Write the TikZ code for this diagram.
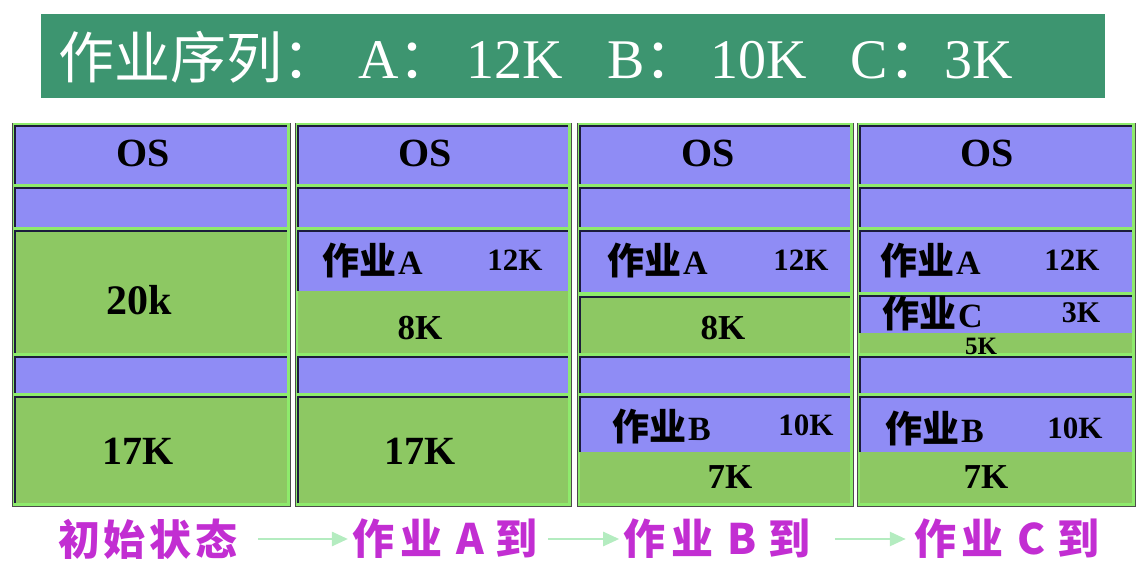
\documentclass[tikz,border=0pt]{standalone}
\usepackage{fontspec}
\setmainfont{Liberation Serif}
\newfontfamily\cjk{Noto Sans CJK SC}
\usetikzlibrary{arrows.meta}
\definecolor{titlegreen}{HTML}{3D9570}
\definecolor{cpurple}{HTML}{8F8CF5}
\definecolor{cgreen}{HTML}{8DC863}
\definecolor{fgreen}{HTML}{8EEB6C}
\definecolor{cdark}{HTML}{1C1C3C}
\definecolor{cmag}{HTML}{C22ED2}
\definecolor{agreen}{HTML}{B4ECC0}
\newcommand\mcell[5]{%
  \fill[#5] (#1,#2) rectangle (#3,#4);
  \draw[cdark,line width=1.6pt] (#1,#4) -- (#1,#2) -- (#3,#2);}
\newcommand\mcol[2]{%
  \fill[fgreen] (#1,123) rectangle (#2,506);
  \draw[black!70,line width=1pt] (#1,123) -- (#1,506) -- (#2,506) -- (#2,123);}
\newcommand\jobtxt[1]{{\cjk\bfseries\fontsize{37}{37}\selectfont 作业}\hspace{2pt}{\bfseries\fontsize{34}{34}\selectfont #1}}
\tikzset{
  lat/.style={inner sep=0pt, font=\bfseries\fontsize{#1}{#1}\selectfont},
  jobl/.style={inner sep=0pt, anchor=west},
  lab/.style={inner sep=0pt, text=cmag, font=\cjk\bfseries\fontsize{42}{42}\selectfont},
  arr/.style={draw=agreen, line width=2.6pt, -{Triangle[length=16pt,width=14pt]}},
}
\begin{document}
\begin{tikzpicture}[x=1pt,y=-1pt]
\useasboundingbox (0,0) rectangle (1146,564);
% title
\fill[titlegreen] (41,14) rectangle (1105,98);
\node[anchor=west, text=white, inner sep=0pt, font=\fontsize{56}{56}\selectfont] (title) at (58,57)
 {{\cjk 作业序列：}\hspace{20pt}A{\cjk ：}\hspace{12pt}12K\hspace{44pt}B{\cjk ：}\hspace{10pt}10K\hspace{44pt}C{\cjk ：}3K};
% column 1
\mcol{12}{290}
\mcell{15}{126}{287}{184}{cpurple}
\mcell{15}{188}{287}{227}{cpurple}
\mcell{15}{231}{287}{353}{cgreen}
\mcell{15}{357}{287}{393}{cpurple}
\mcell{15}{397}{287}{503}{cgreen}
% column 2
\mcol{295}{571}
\mcell{298}{126}{568}{184}{cpurple}
\mcell{298}{188}{568}{227}{cpurple}
\mcell{298}{231}{568}{291}{cpurple}
\fill[cgreen] (298,291) rectangle (568,353);
\mcell{298}{357}{568}{393}{cpurple}
\mcell{298}{397}{568}{503}{cgreen}
% column 3
\mcol{577}{853}
\mcell{580}{126}{850}{184}{cpurple}
\mcell{580}{188}{850}{227}{cpurple}
\mcell{580}{231}{850}{292}{cpurple}
\mcell{580}{297}{850}{353}{cgreen}
\mcell{580}{357}{850}{393}{cpurple}
\mcell{580}{397}{850}{452}{cpurple}
\fill[cgreen] (580,452) rectangle (850,503);
% column 4
\mcol{857}{1135}
\mcell{860}{126}{1132}{184}{cpurple}
\mcell{860}{188}{1132}{227}{cpurple}
\mcell{860}{231}{1132}{292}{cpurple}
\mcell{860}{296}{1132}{333}{cpurple}
\fill[cgreen] (860,333) rectangle (1132,353);
\mcell{860}{357}{1132}{393}{cpurple}
\mcell{860}{397}{1132}{452}{cpurple}
\fill[cgreen] (860,452) rectangle (1132,503);
% texts column 1
\node[lat=40] (c1os) at (143,153) {OS};
\node[lat=42] (c1f) at (139,300) {20k};
\node[lat=40] (c1g) at (138,451) {17K};
% column 2
\node[lat=40] (c2os) at (425,153) {OS};
\node[jobl] (c2a) at (322,261) {\jobtxt{A}};
\node[lat=31] (c2as) at (515,260) {12K};
\node[lat=35] (c2f) at (420,328) {8K};
\node[lat=40] (c2g) at (420,451) {17K};
% column 3
\node[lat=40] (c3os) at (708,153) {OS};
\node[jobl] (c3a) at (607,261) {\jobtxt{A}};
\node[lat=31] (c3as) at (801,260) {12K};
\node[lat=35] (c3f) at (723,328) {8K};
\node[jobl] (c3b) at (612,427) {\jobtxt{B}};
\node[lat=31] (c3bs) at (806,425) {10K};
\node[lat=35] (c3g) at (730,477) {7K};
% column 4
\node[lat=40] (c4os) at (987,153) {OS};
\node[jobl] (c4a) at (880,261) {\jobtxt{A}};
\node[lat=31] (c4as) at (1072,260) {12K};
\node[jobl] (c4c) at (882,314) {\jobtxt{C}};
\node[lat=30] (c4cs) at (1081,313) {3K};
\node[lat=25] (c4f) at (981,346) {5K};
\node[jobl] (c4b) at (885,429) {\jobtxt{B}};
\node[lat=31] (c4bs) at (1075,428) {10K};
\node[lat=35] (c4g) at (986,477) {7K};
% bottom labels
\node[lab] (l1) at (148,539) {初\hspace{4pt}始\hspace{4pt}状\hspace{4pt}态};
\node[lab] (l2) at (445,539) {作\hspace{6pt}业\hspace{14pt}A\hspace{12pt}到};
\node[lab] (l3) at (717,539) {作\hspace{6pt}业\hspace{14pt}B\hspace{12pt}到};
\node[lab] (l4) at (1007,539) {作\hspace{6pt}业\hspace{14pt}C\hspace{12pt}到};
\draw[arr] ([xshift=20pt]l1.east) -- ([xshift=-4pt]l2.west);
\draw[arr] ([xshift=10pt]l2.east) -- ([xshift=-4pt]l3.west);
\draw[arr] ([xshift=24pt]l3.east) -- ([xshift=-8pt]l4.west);
\end{tikzpicture}
\end{document}
